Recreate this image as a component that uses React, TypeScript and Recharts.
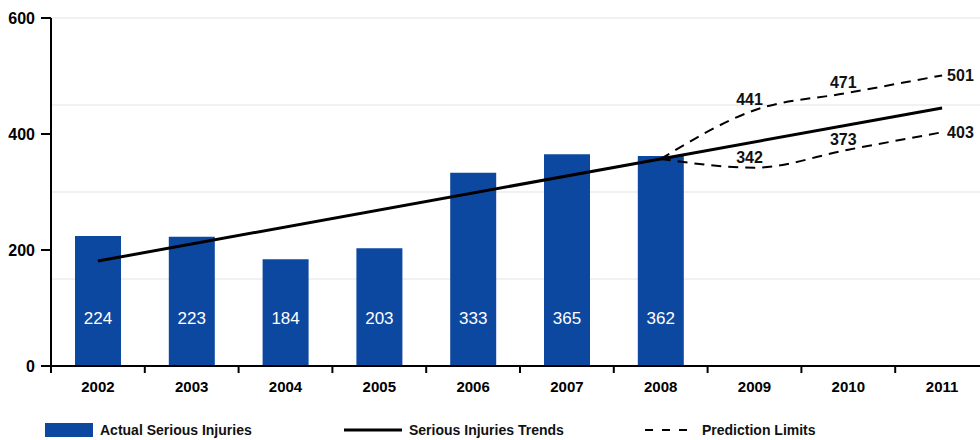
import React from 'react';
import { ComposedChart, Bar, Line, XAxis, YAxis, CartesianGrid, LabelList } from 'recharts';

const years = ['2002', '2003', '2004', '2005', '2006', '2007', '2008', '2009', '2010', '2011'];
const actualInjuries = [224, 223, 184, 203, 333, 365, 362, null, null, null];
const trendEnds = [181, null, null, null, null, null, null, null, null, 445];
const upperLimit = [null, null, null, null, null, null, 357, 441, 471, 501];
const lowerLimit = [null, null, null, null, null, null, 357, 342, 373, 403];
const yTicks = [0, 200, 400, 600];
const gridTicks = [150, 300, 450, 600];

const data = years.map((year, i) => ({
  year,
  actual: actualInjuries[i],
  trend: trendEnds[i],
  upper: upperLimit[i],
  lower: lowerLimit[i],
}));

const FONT = '"Liberation Sans", Arial, Helvetica, sans-serif';
const BLUE = '#0d48a0';

const YearTick = (props: any) => {
  const { x, y, payload } = props;
  const off = payload && typeof payload.offset === 'number' && payload.offset > 0 ? payload.offset : 47;
  return (
    <g>
      <line x1={x - off} y1={y} x2={x - off} y2={y + 7} stroke="#000" strokeWidth={2} />
      <text x={x} y={y + 26} textAnchor="middle" fill="#000" fontSize={15} fontWeight={700} fontFamily={FONT}>
        {payload.value}
      </text>
    </g>
  );
};

const limitLabel = (props: any) => {
  const { x, y, value, index } = props;
  if (value == null || index < 7) return null;
  if (index === 9) {
    return (
      <text x={x + 5} y={y + 6} textAnchor="start" fill="#111" fontSize={16} fontWeight={700} fontFamily={FONT}>
        {value}
      </text>
    );
  }
  return (
    <text x={x - 5} y={y - 5} textAnchor="middle" fill="#111" fontSize={16} fontWeight={700} fontFamily={FONT}>
      {value}
    </text>
  );
};

const LegendItem = ({ symbol, label, left }: { symbol: React.ReactNode; label: string; left: number }) => (
  <div style={{ position: 'absolute', left, top: 421, display: 'flex', alignItems: 'center', height: 18 }}>
    {symbol}
    <span style={{ fontFamily: FONT, fontWeight: 700, fontSize: 14, color: '#111', marginLeft: 7 }}>{label}</span>
  </div>
);

export default function App() {
  return (
    <div style={{ position: 'absolute', left: 0, top: 0, width: 980, height: 440, overflow: 'hidden', background: '#fff' }}>
      <ComposedChart width={1000} height={400} data={data} margin={{ top: 18, right: 11, bottom: 4, left: 0 }}>
        <CartesianGrid
          yAxisId="left"
          vertical={false}
          horizontalValues={gridTicks}
          stroke="#e3e3e3"
          strokeWidth={1}
        />
        <XAxis
          dataKey="year"
          height={30}
          interval={0}
          axisLine={{ stroke: '#000', strokeWidth: 2 }}
          tickLine={false}
          tickSize={0}
          tickMargin={0}
          tick={<YearTick />}
        />
        <YAxis
          yAxisId="left"
          orientation="left"
          width={51}
          domain={[0, 600]}
          ticks={yTicks}
          axisLine={{ stroke: '#000', strokeWidth: 2 }}
          tickLine={{ stroke: '#000', strokeWidth: 2 }}
          tickSize={10}
          tickMargin={6}
          tick={{ fill: '#000', fontSize: 16, fontWeight: 700, fontFamily: FONT }}
        />
        <Bar yAxisId="left" dataKey="actual" fill={BLUE} barSize={46} isAnimationActive={false}>
          <LabelList dataKey="actual" position="insideBottom" offset={42} fill="#fff" fontSize={17} fontFamily={FONT} />
        </Bar>
        <Line
          yAxisId="left"
          type="linear"
          dataKey="trend"
          stroke="#000"
          strokeWidth={3}
          dot={false}
          activeDot={false}
          connectNulls
          isAnimationActive={false}
        />
        <Line
          yAxisId="left"
          type="monotone"
          dataKey="upper"
          stroke="#000"
          strokeWidth={2}
          strokeDasharray="10 7"
          dot={false}
          activeDot={false}
          isAnimationActive={false}
        >
          <LabelList dataKey="upper" content={limitLabel} />
        </Line>
        <Line
          yAxisId="left"
          type="monotone"
          dataKey="lower"
          stroke="#000"
          strokeWidth={2}
          strokeDasharray="10 7"
          dot={false}
          activeDot={false}
          isAnimationActive={false}
        >
          <LabelList dataKey="lower" content={limitLabel} />
        </Line>
      </ComposedChart>
      <LegendItem
        left={45}
        label="Actual Serious Injuries"
        symbol={<svg width={48} height={14}><rect x={0} y={0} width={48} height={14} fill={BLUE} /></svg>}
      />
      <LegendItem
        left={344}
        label="Serious Injuries Trends"
        symbol={<svg width={58} height={14}><line x1={0} y1={7} x2={58} y2={7} stroke="#000" strokeWidth={3} /></svg>}
      />
      <LegendItem
        left={645}
        label="Prediction Limits"
        symbol={<svg width={50} height={14}><line x1={0} y1={7} x2={50} y2={7} stroke="#000" strokeWidth={2} strokeDasharray="8 9" /></svg>}
      />
    </div>
  );
}
